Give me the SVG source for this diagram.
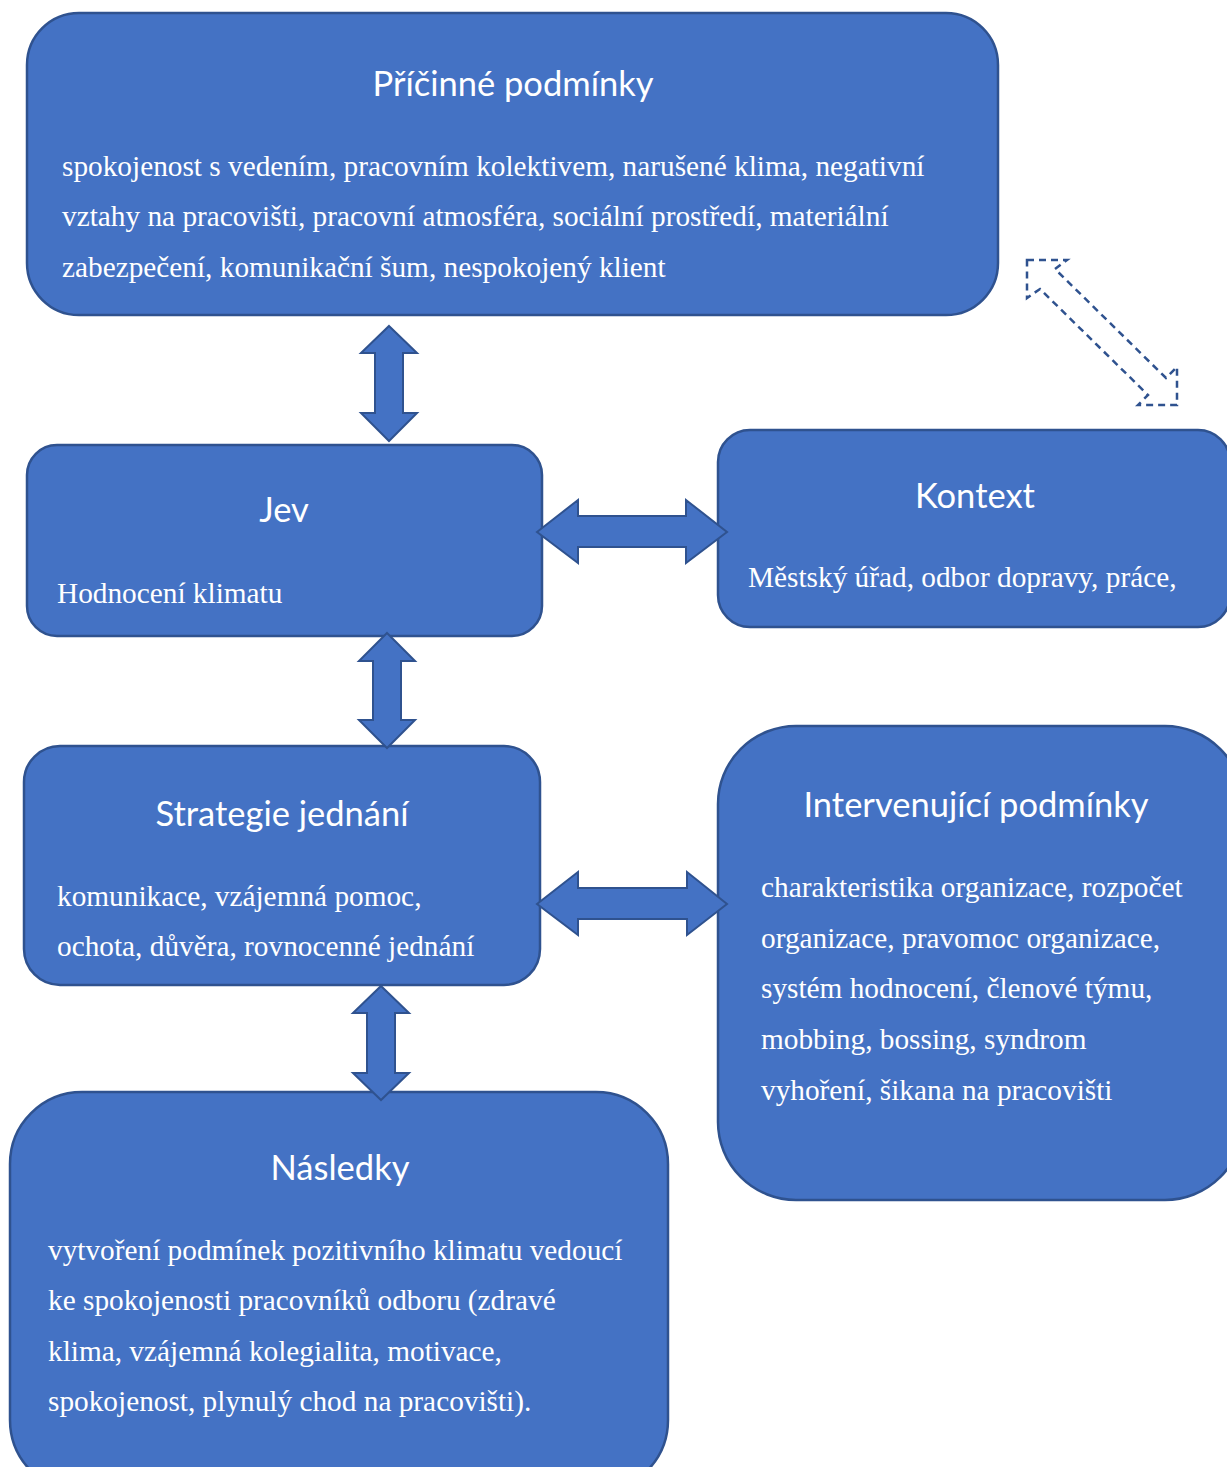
<svg xmlns="http://www.w3.org/2000/svg" width="1227" height="1467" viewBox="0 0 1227 1467">
<style>
.box{fill:#4472C4;stroke:#2F528F;stroke-width:2.5}
.arr{fill:#4472C4;stroke:#2F528F;stroke-width:2}
.dash{fill:none;stroke:#2F528F;stroke-width:2.5;stroke-dasharray:7 5}
.t{font-family:Lato,"Open Sans","Noto Sans",sans-serif;font-size:34.5px;fill:#fff;text-anchor:middle}
.b{font-family:"Liberation Serif","Times New Roman",serif;font-size:29.3px;fill:#fff}
</style>
<rect width="1227" height="1467" fill="#fff"/>
<g id="pricinne">
<rect class="box" x="27" y="13" width="971" height="302" rx="52"/>
<text class="t" x="513" y="96">Příčinné podmínky</text>
<text class="b" x="62" y="176">spokojenost s vedením, pracovním kolektivem, narušené klima, negativní</text>
<text class="b" x="62" y="226">vztahy na pracovišti, pracovní atmosféra, sociální prostředí, materiální</text>
<text class="b" x="62" y="277">zabezpečení, komunikační šum, nespokojený klient</text>
</g>
<g id="jev">
<rect class="box" x="27" y="445" width="515" height="191" rx="30"/>
<text class="t" x="284" y="522">Jev</text>
<text class="b" x="57" y="603">Hodnocení klimatu</text>
</g>
<g id="kontext">
<rect class="box" x="718" y="430" width="512" height="197" rx="32"/>
<text class="t" x="975" y="508">Kontext</text>
<text class="b" x="748" y="587">Městský úřad, odbor dopravy, práce,</text>
</g>
<g id="strategie">
<rect class="box" x="24" y="746" width="516" height="239" rx="36"/>
<text class="t" x="282" y="826">Strategie jednání</text>
<text class="b" x="57" y="906">komunikace, vzájemná pomoc,</text>
<text class="b" x="57" y="956">ochota, důvěra, rovnocenné jednání</text>
</g>
<g id="intervenujici">
<rect class="box" x="718" y="726" width="525" height="474" rx="78"/>
<text class="t" x="976" y="817">Intervenující podmínky</text>
<text class="b" x="761" y="897">charakteristika organizace, rozpočet</text>
<text class="b" x="761" y="948">organizace, pravomoc organizace,</text>
<text class="b" x="761" y="998">systém hodnocení, členové týmu,</text>
<text class="b" x="761" y="1049">mobbing, bossing, syndrom</text>
<text class="b" x="761" y="1100">vyhoření, šikana na pracovišti</text>
</g>
<g id="nasledky">
<rect class="box" x="10" y="1092" width="658" height="400" rx="72"/>
<text class="t" x="340" y="1180">Následky</text>
<text class="b" x="48" y="1260">vytvoření podmínek pozitivního klimatu vedoucí</text>
<text class="b" x="48" y="1310">ke spokojenosti pracovníků odboru (zdravé</text>
<text class="b" x="48" y="1361">klima, vzájemná kolegialita, motivace,</text>
<text class="b" x="48" y="1411">spokojenost, plynulý chod na pracovišti).</text>
</g>
<g id="connectors">
<polygon class="arr" points="389,326 417,353 403,353 403,413 417,413 389,441 361,413 375,413 375,353 361,353"/>
<polygon class="arr" points="387,633 415,661 401,661 401,720 415,720 387,748 359,720 373,720 373,661 359,661"/>
<polygon class="arr" points="381,986 409,1013 395,1013 395,1073 409,1073 381,1100 353,1073 367,1073 367,1013 353,1013"/>
<polygon class="arr" points="537,532 578,500 578,516 686,516 686,500 727,532 686,563 686,547 578,547 578,563"/>
<polygon class="arr" points="537,904 578,872 578,888 687,888 687,872 727,904 687,935 687,919 578,919 578,935"/>
<polygon class="dash" points="1027,260 1067,260 1055,269 1166,378 1177,367 1177,405 1138,405 1148,395 1040,289 1027,298"/>
</g>
</svg>
